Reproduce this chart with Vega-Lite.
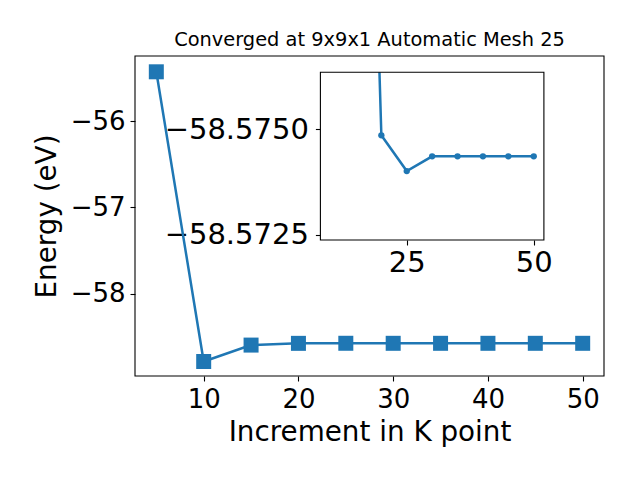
{
  "$schema": "https://vega.github.io/schema/vega-lite/v6.json",
  "width": 469,
  "height": 320,
  "autosize": {"type": "none"},
  "padding": {"left": 135, "top": 56, "right": 36, "bottom": 104},
  "background": "white",
  "title": {"text": "Converged at 9x9x1 Automatic Mesh 25", "fontSize": 19.4, "font": "DejaVu Sans", "fontWeight": "normal", "anchor": "middle", "baseline": "alphabetic", "offset": -10, "color": "black"},
  "config": {
    "view": {"stroke": null},
    "font": "DejaVu Sans",
    "axis": {"labelFont": "DejaVu Sans", "titleFont": "DejaVu Sans", "labelColor": "black", "titleColor": "black", "tickColor": "black", "domainColor": "black", "tickSize": 5, "tickWidth": 1.1, "grid": false, "domain": false, "titleFontWeight": "normal", "zindex": 1}
  },
  "datasets": {
    "energy": [
      {"k": 5, "E": -55.43},
      {"k": 10, "E": -58.785},
      {"k": 15, "E": -58.595},
      {"k": 20, "E": -58.57486},
      {"k": 25, "E": -58.57401},
      {"k": 30, "E": -58.57436},
      {"k": 35, "E": -58.57436},
      {"k": 40, "E": -58.57436},
      {"k": 45, "E": -58.57436},
      {"k": 50, "E": -58.57436}
    ],
    "frame": [{"x0": 2.75, "x1": 52.25, "y0": -58.953, "y1": -55.247}],
    "box": [{"x0": 8, "x1": 52, "y0": -58.57636, "y1": -58.57237}],
    "mask": [{"x0": 8, "x1": 52, "y0": -58.6, "y1": -58.57636}]
  },
  "layer": [
    {
      "data": {"name": "energy"},
      "encoding": {
        "x": {"field": "k", "type": "quantitative", "scale": {"domain": [2.75, 52.25], "nice": false, "zero": false},
              "axis": {"orient": "bottom", "values": [10, 20, 30, 40, 50], "labelFontSize": 26, "labelPadding": 5, "title": "Increment in K point", "titleFontSize": 27.8, "titlePadding": 6}},
        "y": {"field": "E", "type": "quantitative", "scale": {"domain": [-58.953, -55.247], "nice": false, "zero": false},
              "axis": {"orient": "left", "values": [-58, -57, -56], "format": "d", "labelFontSize": 26, "labelPadding": 5, "title": "Energy (eV)", "titleFontSize": 27.8, "titlePadding": 9}}
      },
      "layer": [
        {"mark": {"type": "line", "color": "#1f77b4", "strokeWidth": 2.5}},
        {"mark": {"type": "point", "shape": "square", "filled": true, "size": 225, "color": "#1f77b4", "opacity": 1}}
      ]
    },
    {
      "layer": [
        {
          "data": {"name": "box"},
          "mark": {"type": "rect", "fill": "white", "stroke": null},
          "encoding": {
            "x": {"field": "x0", "type": "quantitative", "title": null, "scale": {"domain": [8, 52], "range": [185.4, 408.9], "nice": false, "zero": false}},
            "x2": {"field": "x1"},
            "y": {"field": "y0", "type": "quantitative", "title": null, "scale": {"domain": [-58.57636, -58.57237], "range": [16.3, 184], "nice": false, "zero": false}},
            "y2": {"field": "y1"}
          }
        },
        {
          "data": {"name": "energy"},
          "transform": [{"filter": "datum.k >= 15"}],
          "mark": {"type": "line", "color": "#1f77b4", "strokeWidth": 2.5, "clip": true},
          "encoding": {
            "x": {"field": "k", "type": "quantitative", "title": null, "scale": {"domain": [8, 52], "range": [185.4, 408.9], "nice": false, "zero": false},
                  "axis": {"orient": "bottom", "offset": -136, "values": [25, 50], "labelFontSize": 29, "labelPadding": 3, "title": null}},
            "y": {"field": "E", "type": "quantitative", "title": null, "scale": {"domain": [-58.57636, -58.57237], "range": [16.3, 184], "nice": false, "zero": false},
                  "axis": {"orient": "left", "offset": -185.4, "values": [-58.575, -58.5725], "format": ".4f", "labelFontSize": 29, "labelPadding": 7, "title": null}}
          }
        },
        {
          "data": {"name": "energy"},
          "transform": [{"filter": "datum.k >= 15"}],
          "mark": {"type": "point", "shape": "circle", "filled": true, "size": 40, "color": "#1f77b4", "opacity": 1, "clip": true},
          "encoding": {
            "x": {"field": "k", "type": "quantitative", "title": null, "scale": {"domain": [8, 52], "range": [185.4, 408.9], "nice": false, "zero": false}},
            "y": {"field": "E", "type": "quantitative", "title": null, "scale": {"domain": [-58.57636, -58.57237], "range": [16.3, 184], "nice": false, "zero": false}}
          }
        },
        {
          "data": {"name": "mask"},
          "mark": {"type": "rect", "fill": "white", "stroke": null, "clip": true},
          "encoding": {
            "x": {"field": "x0", "type": "quantitative", "title": null, "scale": {"domain": [8, 52], "range": [185.4, 408.9], "nice": false, "zero": false}},
            "x2": {"field": "x1"},
            "y": {"field": "y0", "type": "quantitative", "title": null, "scale": {"domain": [-58.57636, -58.57237], "range": [16.3, 184], "nice": false, "zero": false}},
            "y2": {"field": "y1"}
          }
        },
        {
          "data": {"name": "box"},
          "mark": {"type": "rect", "fill": null, "stroke": "black", "strokeWidth": 1.1},
          "encoding": {
            "x": {"field": "x0", "type": "quantitative", "title": null, "scale": {"domain": [8, 52], "range": [185.4, 408.9], "nice": false, "zero": false}},
            "x2": {"field": "x1"},
            "y": {"field": "y0", "type": "quantitative", "title": null, "scale": {"domain": [-58.57636, -58.57237], "range": [16.3, 184], "nice": false, "zero": false}},
            "y2": {"field": "y1"}
          }
        }
      ]
    },
    {
      "data": {"name": "frame"},
      "mark": {"type": "rect", "fill": null, "stroke": "black", "strokeWidth": 1.1},
      "encoding": {
        "x": {"field": "x0", "type": "quantitative", "axis": null, "scale": {"domain": [2.75, 52.25], "nice": false, "zero": false}},
        "x2": {"field": "x1"},
        "y": {"field": "y0", "type": "quantitative", "axis": null, "scale": {"domain": [-58.953, -55.247], "nice": false, "zero": false}},
        "y2": {"field": "y1"}
      }
    }
  ],
  "resolve": {"scale": {"x": "independent", "y": "independent"}}
}
